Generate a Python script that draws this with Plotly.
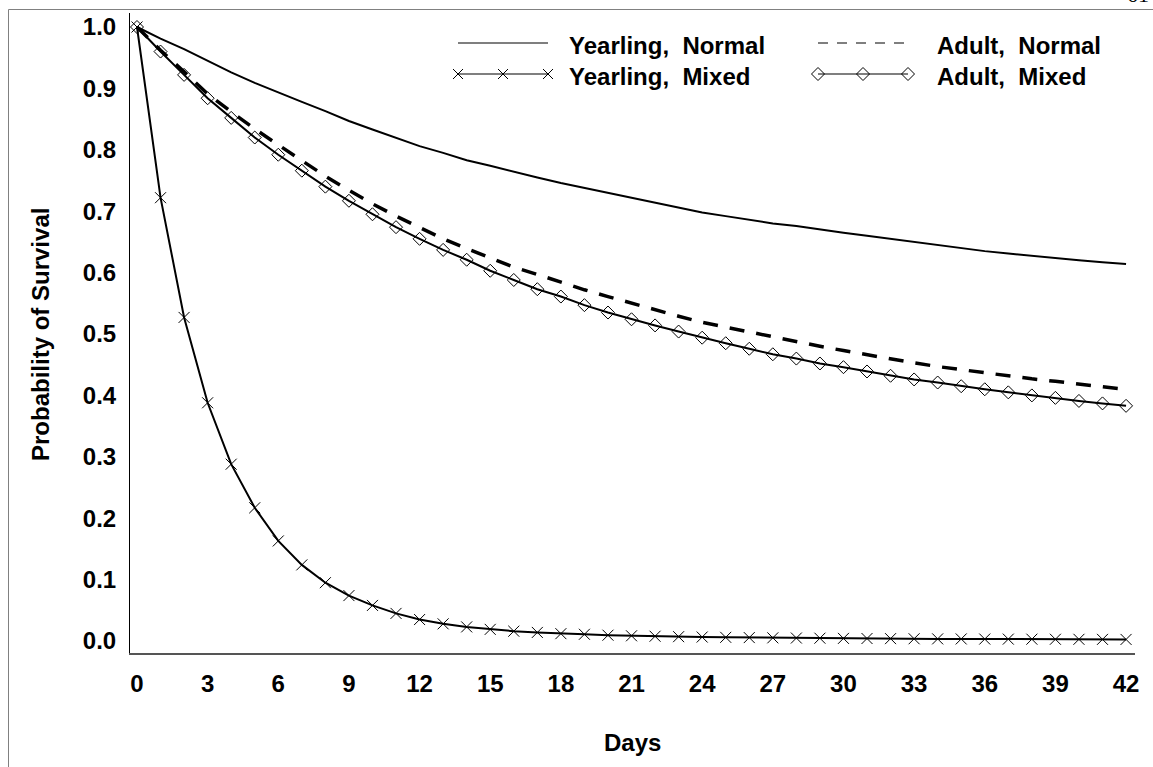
import plotly.graph_objects as go

days = list(range(43))

yearling_normal = [1.000, 0.981, 0.964, 0.945, 0.926, 0.909, 0.893, 0.878, 0.863, 0.847,
                   0.833, 0.820, 0.806, 0.795, 0.783, 0.774, 0.764, 0.755, 0.746, 0.738,
                   0.730, 0.722, 0.714, 0.706, 0.698, 0.692, 0.686, 0.680, 0.676, 0.670,
                   0.665, 0.660, 0.655, 0.649, 0.644, 0.640, 0.635, 0.631, 0.627, 0.623,
                   0.620, 0.617, 0.614]

adult_normal = [1.000, 0.962, 0.927, 0.891, 0.862, 0.834, 0.808, 0.782, 0.757, 0.734,
                0.712, 0.692, 0.673, 0.655, 0.639, 0.624, 0.609, 0.597, 0.584, 0.572,
                0.561, 0.550, 0.539, 0.529, 0.519, 0.511, 0.504, 0.495, 0.488, 0.480,
                0.473, 0.466, 0.459, 0.453, 0.447, 0.442, 0.437, 0.431, 0.427, 0.423,
                0.418, 0.414, 0.410]

adult_mixed = [1.000, 0.960, 0.922, 0.884, 0.852, 0.820, 0.792, 0.766, 0.740, 0.717,
               0.695, 0.674, 0.655, 0.637, 0.621, 0.603, 0.588, 0.573, 0.561, 0.547,
               0.535, 0.524, 0.514, 0.504, 0.494, 0.485, 0.476, 0.467, 0.460, 0.452,
               0.446, 0.439, 0.432, 0.426, 0.421, 0.415, 0.410, 0.405, 0.400, 0.396,
               0.391, 0.387, 0.383]

yearling_mixed = [1.000, 0.722, 0.527, 0.388, 0.288, 0.217, 0.163, 0.124, 0.095, 0.074,
                  0.058, 0.045, 0.035, 0.028, 0.023, 0.019, 0.016, 0.014, 0.012, 0.011,
                  0.0095, 0.0085, 0.0078, 0.0071, 0.0065, 0.0060, 0.0056, 0.0052, 0.0049, 0.0046,
                  0.0043, 0.0041, 0.0039, 0.0037, 0.0035, 0.0034, 0.0032, 0.0031, 0.0030, 0.0029,
                  0.0028, 0.0027, 0.0026]

series_names = ["Yearling,\u00a0 Normal", "Adult,\u00a0 Normal",
                "Yearling,\u00a0 Mixed", "Adult,\u00a0 Mixed"]

x_ticks = list(range(0, 43, 3))
y_ticks = [0.0, 0.1, 0.2, 0.3, 0.4, 0.5, 0.6, 0.7, 0.8, 0.9, 1.0]
y_tick_labels = ["0.0", "0.1", "0.2", "0.3", "0.4", "0.5", "0.6", "0.7", "0.8", "0.9", "1.0"]

FONT = "Liberation Sans, Arial, Helvetica, sans-serif"
W, H = 1153, 767
L, R, T, B = 130, 18, 13, 114
PW, PH = W - L - R, H - T - B


def px(xp):
    return (xp - L) / PW


def py(yp):
    return (H - B - yp) / PH


fig = go.Figure()

fig.add_trace(go.Scatter(x=days, y=yearling_normal, mode="lines",
                         line=dict(color="black", width=2), showlegend=False))
fig.add_trace(go.Scatter(x=days, y=adult_normal, mode="lines",
                         line=dict(color="black", width=3.5, dash="15px,12px"), showlegend=False))
fig.add_trace(go.Scatter(x=days, y=adult_mixed, mode="lines+markers",
                         line=dict(color="black", width=2),
                         marker=dict(symbol="diamond-open", size=10, color="black",
                                     line=dict(color="black", width=1)),
                         showlegend=False))
fig.add_trace(go.Scatter(x=days, y=yearling_mixed, mode="lines+markers",
                         line=dict(color="black", width=2),
                         marker=dict(symbol="x-thin", size=11, color="black",
                                     line=dict(color="black", width=1)),
                         showlegend=False))

# ---- custom two-column legend on a hidden pixel-scaled overlay axis ----
leg_rows_y = [43, 74]
leg_cols_x = [458, 818]
seg_len = 90
text_x = [567, 935]

fig.add_trace(go.Scatter(x=[leg_cols_x[0], leg_cols_x[0] + seg_len], y=[leg_rows_y[0]] * 2,
                         xaxis="x2", yaxis="y2", mode="lines",
                         line=dict(color="black", width=1.2), showlegend=False, hoverinfo="skip"))
fig.add_trace(go.Scatter(x=[leg_cols_x[1], leg_cols_x[1] + seg_len], y=[leg_rows_y[0]] * 2,
                         xaxis="x2", yaxis="y2", mode="lines",
                         line=dict(color="black", width=1.2, dash="10px,9px"),
                         showlegend=False, hoverinfo="skip"))
mx0 = [leg_cols_x[0] + seg_len * k / 2 for k in range(3)]
mx1 = [leg_cols_x[1] + seg_len * k / 2 for k in range(3)]
fig.add_trace(go.Scatter(x=mx0, y=[leg_rows_y[1]] * 3, xaxis="x2", yaxis="y2",
                         mode="lines+markers", line=dict(color="black", width=1.2),
                         marker=dict(symbol="x-thin", size=10, color="black",
                                     line=dict(color="black", width=1)),
                         showlegend=False, hoverinfo="skip"))
fig.add_trace(go.Scatter(x=mx1, y=[leg_rows_y[1]] * 3, xaxis="x2", yaxis="y2",
                         mode="lines+markers", line=dict(color="black", width=1.2),
                         marker=dict(symbol="diamond-open", size=10, color="black",
                                     line=dict(color="black", width=1)),
                         showlegend=False, hoverinfo="skip"))

annotations = []
leg_text_pos = [(text_x[0], leg_rows_y[0] + 2, series_names[0]),
                (text_x[1], leg_rows_y[0] + 2, series_names[1]),
                (text_x[0], leg_rows_y[1] + 2, series_names[2]),
                (text_x[1], leg_rows_y[1] + 2, series_names[3])]
for tx, ty, name in leg_text_pos:
    annotations.append(dict(x=tx, y=ty, xref="x2", yref="y2", text="<b>" + name + "</b>",
                            showarrow=False, xanchor="left", yanchor="middle",
                            font=dict(family=FONT, size=24, color="black")))

annotations.append(dict(x=0.5, y=py(742), xref="paper", yref="paper", text="<b>Days</b>",
                        showarrow=False, xanchor="center", yanchor="middle",
                        font=dict(family=FONT, size=24, color="black")))
annotations.append(dict(x=px(40), y=py(335), xref="paper", yref="paper",
                        text="<b>Probability of Survival</b>", textangle=-90,
                        showarrow=False, xanchor="center", yanchor="middle",
                        font=dict(family=FONT, size=24, color="black")))
# page number of the source page, cut off at the top edge as in the reference
annotations.append(dict(x=px(1138), y=py(9), xref="paper", yref="paper", text="61",
                        showarrow=False, xanchor="center", yanchor="bottom",
                        font=dict(family="Liberation Serif, Times New Roman, serif", size=22,
                                  color="black")))

shapes = [
    dict(type="line", xref="paper", yref="paper", x0=px(8.5), x1=px(1153), y0=py(9.5), y1=py(9.5),
         line=dict(color="#808080", width=1)),
    dict(type="line", xref="paper", yref="paper", x0=px(8.5), x1=px(8.5), y0=py(9.5), y1=py(767),
         line=dict(color="#808080", width=1)),
]

tickfont = dict(family=FONT, size=24, color="black", weight="bold")

fig.update_layout(
    width=W, height=H,
    margin=dict(l=L, r=R, t=T, b=B, pad=0),
    paper_bgcolor="white", plot_bgcolor="white",
    showlegend=False,
    annotations=annotations,
    shapes=shapes,
    xaxis=dict(range=[-0.297, 42.38], tickmode="array", tickvals=x_ticks,
               ticktext=[str(v) for v in x_ticks],
               showgrid=False, zeroline=False, showline=True, linecolor="#555555", linewidth=1.5,
               ticks="outside", ticklen=8, tickcolor="rgba(0,0,0,0)",
               tickfont=tickfont),
    yaxis=dict(range=[-0.0195, 1.0228], tickmode="array", tickvals=y_ticks,
               ticktext=y_tick_labels,
               showgrid=False, zeroline=False, showline=True, linecolor="black", linewidth=1,
               ticks="outside", ticklen=8, tickcolor="rgba(0,0,0,0)",
               tickfont=tickfont),
    xaxis2=dict(overlaying="x", range=[L, W - R], visible=False, fixedrange=True),
    yaxis2=dict(overlaying="y", range=[H - B, T], visible=False, fixedrange=True),
)

fig.write_html("out.html", config={"displayModeBar": False},
               post_script="document.body.style.margin='0';document.body.style.overflow='hidden';")
